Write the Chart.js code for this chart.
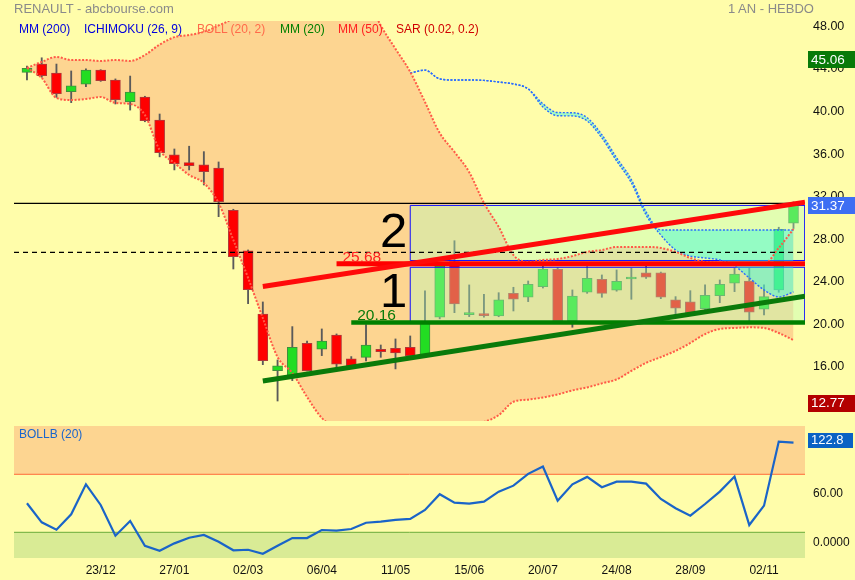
<!DOCTYPE html>
<html>
<head>
<meta charset="utf-8">
<title>RENAULT - abcbourse.com</title>
<script src="https://cdn.jsdelivr.net/npm/chart.js@4.4.0/dist/chart.umd.min.js"></script>
<style>
  body { margin: 0; background: #fffdaa; font-family: "Liberation Sans", Arial, sans-serif; }
  #wrap { position: relative; width: 855px; height: 580px; overflow: hidden; }
  #main { position: absolute; left: 0; top: 0; }
  #lower { position: absolute; left: 0; top: 425px; }
  .t { position: absolute; font-size: 12px; line-height: 14px; white-space: nowrap; }
</style>
</head>
<body>
<div id="wrap">
  <canvas id="main" width="855" height="425"></canvas>
  <canvas id="lower" width="855" height="155"></canvas>

  <div class="t" style="left:14px;top:0px;font-size:13px;line-height:17px;color:#8a8a8a">RENAULT - abcbourse.com</div>
  <div class="t" style="left:728px;top:0px;font-size:13px;line-height:17px;color:#8a8a8a">1 AN - HEBDO</div>

  <div class="t" style="left:19px;top:22px;color:#0000dd">MM (200)</div>
  <div class="t" style="left:84px;top:22px;color:#0000dd">ICHIMOKU (26, 9)</div>
  <div class="t" style="left:197px;top:22px;color:#ff6a4a">BOLL (20, 2)</div>
  <div class="t" style="left:280px;top:22px;color:#008000">MM (20)</div>
  <div class="t" style="left:338px;top:22px;color:#ff2020">MM (50)</div>
  <div class="t" style="left:396px;top:22px;color:#d00000">SAR (0.02, 0.2)</div>

  <div class="t" style="left:19px;top:427px;color:#1a66cc">BOLLB (20)</div>
</div>

<script>
// weekly data, one entry per week (18/11 -> 16/11)
var weeks = ['18/11','25/11','02/12','09/12','16/12','23/12','30/12','06/01','13/01','20/01',
             '27/01','03/02','10/02','17/02','24/02','02/03','09/03','16/03','23/03','30/03',
             '06/04','13/04','20/04','27/04','04/05','11/05','18/05','25/05','01/06','08/06',
             '15/06','22/06','29/06','06/07','13/07','20/07','27/07','03/08','10/08','17/08',
             '24/08','31/08','07/09','14/09','21/09','28/09','05/10','12/10','19/10','26/10',
             '02/11','09/11','16/11'];

var opens  = [43.69,44.47,43.63,41.87,42.57,43.91,42.97,40.93,41.37,39.21,
              35.92,35.19,34.98,34.69,30.71,26.89,20.96,15.62,14.97,18.20,
              17.64,18.98,16.73,16.88,17.63,17.73,17.83,17.10,20.65,25.88,
              20.90,20.85,20.77,22.91,22.53,23.53,25.16,20.33,23.00,24.22,
              23.19,24.25,24.82,24.82,22.28,22.09,21.46,22.68,23.85,24.06,
              21.40,23.22,29.49];
var highs  = [44.29,45.06,44.47,43.82,44.01,43.94,43.07,43.34,41.44,39.77,
              36.48,36.74,36.23,35.26,30.81,26.98,22.09,16.63,19.77,18.42,
              19.55,19.08,16.95,19.96,18.04,18.61,18.89,23.13,25.80,27.85,
              23.69,22.81,22.96,23.47,24.06,25.57,25.30,23.22,25.41,24.63,
              25.10,25.26,25.48,24.90,22.59,23.15,23.69,24.16,25.26,25.26,
              23.69,29.12,31.50];
var lows   = [42.98,43.23,41.34,40.84,42.34,42.84,40.71,40.14,39.04,35.74,
              34.51,34.51,33.09,30.11,25.19,21.93,16.19,12.77,14.69,15.60,
              17.04,15.85,15.97,16.54,16.88,15.79,17.00,17.00,20.50,21.08,
              20.71,20.65,20.70,21.24,22.12,23.40,20.20,19.71,22.90,22.53,
              23.10,22.34,24.30,22.40,20.87,20.90,21.27,22.02,23.06,20.33,
              20.87,23.00,29.00];
var closes = [44.07,43.38,41.68,42.41,43.91,42.91,41.12,41.84,39.14,36.14,
              35.10,34.91,34.34,31.52,26.35,23.24,16.57,16.07,17.83,15.63,
              18.42,16.23,16.00,18.04,17.41,17.29,17.04,20.20,25.57,21.90,
              21.00,20.80,22.28,22.34,23.75,25.19,20.33,22.65,24.32,22.90,
              24.04,24.35,24.41,22.53,21.50,21.08,22.72,23.75,24.72,21.12,
              22.59,28.93,31.37];

// bollinger (20, 2)
var bollUpper = [44.10,44.67,45.14,44.85,44.85,44.76,44.85,44.76,45.32,46.30,
                 47.00,47.20,47.50,48.10,48.90,51.00,52.50,54.00,55.00,55.50,
                 55.50,55.00,53.50,51.00,48.10,45.90,43.73,40.90,37.98,36.20,
                 34.30,31.40,29.15,26.50,25.86,26.04,26.13,26.40,26.80,26.98,
                 27.26,27.26,27.26,27.17,26.80,26.23,25.86,25.76,25.67,25.67,
                 25.67,27.17,28.95];
var bollLower = [44.10,43.16,41.28,41.09,41.18,41.37,40.81,40.71,39.68,36.39,
                 35.17,34.04,33.28,31.40,27.92,24.35,20.58,16.91,15.41,13.15,
                 11.18,10.20,9.60,9.20,9.00,9.00,9.20,9.50,9.90,10.30,
                 10.60,10.80,11.44,12.70,12.90,13.10,13.39,13.77,14.05,14.43,
                 14.80,15.60,16.36,16.90,17.49,18.23,19.07,19.55,19.64,19.70,
                 19.64,19.17,18.50];

// ichimoku cloud, starts 26 weeks in
var senkouStart = 26;
var senkouA = [43.62,43.90,43.07,42.97,42.97,42.93,42.78,42.60,42.13,40.43,
               39.61,39.59,39.12,37.52,35.36,33.30,30.27,28.39,26.98,26.41,
               26.23,26.04,25.48,24.35,23.22,22.56,23.03];
var senkouB = [43.62,43.90,43.07,42.97,42.97,42.93,42.78,42.60,42.13,40.73,
               39.91,39.89,39.42,37.82,35.66,33.60,30.57,28.86,28.86,28.86,
               28.86,28.86,28.86,28.86,28.86,28.86,28.86];

// BOLLB (20)
var bollB = [48.6,25.3,16.3,35.1,71.8,46.5,8.9,26.9,-3.3,-9.4,
             -0.4,6.5,9.8,1.6,-8.9,-8.2,-13.1,-3.3,6.1,6.1,
             15.9,15.1,17.1,24.8,26.1,28.2,29.4,40.4,59.6,49.3,
             48.1,50.6,62.8,70.1,84.5,93.4,51.8,71.8,80.8,68.2,
             75.0,75.0,72.6,53.9,42.5,33.4,47.7,62.8,81.2,22.0,
             45.7,124.0,122.8];

var priceTicks = [16, 20, 24, 28, 32, 36, 40, 44, 48];
var bollBTicks = [0, 60, 120];
var bollBTickText = {0: '0.0000', 60: '60.00', 120: '120.0'};
var dateTicks = [5, 10, 15, 20, 25, 30, 35, 40, 45, 50];

// drawn objects (price units / week index)
var lastPrice = 31.37, yearHigh = 45.06, yearLow = 12.77;
var dashedLevel = 26.76;
var resistance = 25.68, resistanceFrom = 21.0;
var support = 20.16, supportFrom = 22.0;
var redTrend = [[16, 23.55], [52.78, 31.48]];
var greenTrend = [[16, 14.65], [52.78, 22.62]];
var zone1 = [20.16, 25.35], zone2 = [25.99, 31.17], zoneFrom = 26;
var bollBUpperLevel = 84, bollBLowerLevel = 13.1;

var X_MIN = -0.88, X_MAX = 52.78;
var Y_MIN = 10.89, Y_MAX = 48.52;
var FONT = '"Liberation Sans", Arial, sans-serif';
var ORANGE = '#fdd591';

function pts(arr, start) {
  start = start || 0;
  return arr.map(function (v, i) { return {x: i + start, y: v}; });
}
function seg(a, b) { return [{x: a[0], y: a[1]}, {x: b[0], y: b[1]}]; }
function hline(v, from) { return [{x: from, y: v}, {x: X_MAX, y: v}]; }
function rect(z, from) {
  return [{x: from, y: z[0]}, {x: from, y: z[1]}, {x: X_MAX, y: z[1]}, {x: X_MAX, y: z[0]}, {x: from, y: z[0]}];
}

var wicks = [], bodies = [], bodyColors = [], bodyBorders = [];
for (var i = 0; i < weeks.length; i++) {
  wicks.push({x: i, y: [lows[i], highs[i]]});
  bodies.push({x: i, y: [opens[i], closes[i]]});
  var up = closes[i] >= opens[i];
  bodyColors.push(up ? '#22dd22' : '#ff0000');
  bodyBorders.push(up ? '#3f8f3f' : '#b03a3a');
}

function line(data, color, width, order, extra) {
  var ds = {type: 'line', data: data, borderColor: color, borderWidth: width,
            pointRadius: 0, fill: false, order: order, tension: 0};
  for (var k in extra) ds[k] = extra[k];
  return ds;
}

var dotted = {borderDash: [2, 1.6], cubicInterpolationMode: 'monotone'};

// keep the right axis from reserving label room above/below the plot
function rightAxisFit(s) {
  s.width = 50;
  s.paddingTop = 0;
  s.paddingBottom = 0;
}

var textPlugin = {
  id: 'textPlugin',
  afterDatasetsDraw: function (chart) {
    var ctx = chart.ctx, xs = chart.scales.x, ys = chart.scales.y;
    ctx.save();
    ctx.textBaseline = 'alphabetic';
    ctx.textAlign = 'right';
    ctx.fillStyle = '#000';
    ctx.font = '49px ' + FONT;
    ctx.fillText('2', xs.getPixelForValue(zoneFrom) - 3, ys.getPixelForValue(27.26));
    ctx.fillText('1', xs.getPixelForValue(zoneFrom) - 3, ys.getPixelForValue(21.62));
    ctx.textAlign = 'left';
    ctx.font = '15.5px ' + FONT;
    ctx.fillStyle = '#ff2020';
    ctx.fillText('25.68', xs.getPixelForValue(resistanceFrom + 0.4), ys.getPixelForValue(resistance) - 1.5);
    ctx.fillStyle = '#0a7a0a';
    ctx.fillText('20.16', xs.getPixelForValue(supportFrom + 0.4), ys.getPixelForValue(support) - 2);
    ctx.restore();
  },
  afterDraw: function (chart) {
    valueBox(chart, yearHigh, '#087a08', yearHigh.toFixed(2), 1.8, 17, 13.5);
    valueBox(chart, lastPrice, '#3d6ef3', lastPrice.toFixed(2), 2, 17, 13.5);
    valueBox(chart, yearLow, '#b30000', yearLow.toFixed(2), 2, 17, 13.5);
  }
};

function valueBox(chart, value, bg, text, dy, h, size) {
  var ctx = chart.ctx;
  var y = chart.scales.y.getPixelForValue(value) + dy;
  var x = chart.chartArea.right + 3;
  ctx.save();
  ctx.fillStyle = bg;
  ctx.fillRect(x, Math.round(y - h / 2), chart.width - x, h);
  ctx.fillStyle = '#fff';
  ctx.font = size + 'px ' + FONT;
  ctx.textAlign = 'left';
  ctx.textBaseline = 'middle';
  ctx.fillText(text, x + 3, y + 0.5);
  ctx.restore();
}

var mainChart = new Chart(document.getElementById('main'), {
  type: 'line',
  data: {
    datasets: [
      // bollinger fill (behind everything)
      line(pts(bollUpper), 'rgba(0,0,0,0)', 0, 100, {fill: '+1', backgroundColor: ORANGE, cubicInterpolationMode: 'monotone'}),
      line(pts(bollLower), 'rgba(0,0,0,0)', 0, 99, {cubicInterpolationMode: 'monotone'}),
      // candles
      {type: 'bar', data: wicks, backgroundColor: '#5a5a5a', barThickness: 1.2,
       grouped: false, order: 60},
      {type: 'bar', data: bodies, backgroundColor: bodyColors, borderColor: bodyBorders,
       borderWidth: 1, borderSkipped: false, barThickness: 10, minBarLength: 2,
       grouped: false, order: 50},
      // zones 1 and 2
      line(rect(zone2, zoneFrom), '#1010ff', 1, 40, {fill: 'shape', backgroundColor: 'rgba(180,255,190,0.38)'}),
      line(rect(zone1, zoneFrom), '#1010ff', 1, 39, {fill: 'shape', backgroundColor: 'rgba(180,255,190,0.38)'}),
      // ichimoku cloud
      line(pts(senkouA, senkouStart), '#2a6cff', 1.4, 35,
           Object.assign({fill: '+1', backgroundColor: 'rgba(40,250,225,0.42)'}, dotted)),
      line(pts(senkouB, senkouStart), '#2a6cff', 1.4, 34, dotted),
      // bollinger bands
      line(pts(bollUpper), '#ff5a47', 2, 30, dotted),
      line(pts(bollLower), '#ff5a47', 2, 29, dotted),
      // horizontal lines
      line(hline(lastPrice, X_MIN), '#000', 1.3, 20),
      line(hline(dashedLevel, X_MIN), '#000', 1.3, 20, {borderDash: [5, 4]}),
      line(hline(resistance, resistanceFrom), '#ff0000', 5, 12),
      line(hline(support, supportFrom), '#008000', 4.5, 12),
      // trend lines
      line(seg(redTrend[0], redTrend[1]), '#ff0a0a', 5, 10),
      line(seg(greenTrend[0], greenTrend[1]), '#0a7a0a', 5, 10)
    ]
  },
  options: {
    responsive: false,
    animation: false,
    events: [],
    devicePixelRatio: 1,
    layout: {padding: {left: 14, top: 21, right: 0, bottom: 4}},
    plugins: {legend: {display: false}, tooltip: {enabled: false}},
    scales: {
      x: {type: 'linear', min: X_MIN, max: X_MAX, display: false, offset: false},
      y: {
        position: 'right', min: Y_MIN, max: Y_MAX,
        grid: {display: false, drawTicks: false}, border: {display: false},
        afterFit: rightAxisFit,
        afterBuildTicks: function (s) { s.ticks = priceTicks.map(function (v) { return {value: v}; }); },
        ticks: {padding: 8, color: '#111', font: {family: FONT, size: 12.5},
                callback: function (v) { return v.toFixed(2); }}
      }
    }
  },
  plugins: [textPlugin]
});

var lowerPlugin = {
  id: 'lowerPlugin',
  afterDraw: function (chart) {
    var ctx = chart.ctx;
    var last = bollB[bollB.length - 1];
    var y = chart.scales.y.getPixelForValue(last) - 2.5;
    var x = chart.chartArea.right + 3;
    ctx.save();
    ctx.fillStyle = '#0a62c4';
    ctx.fillRect(x, Math.round(y - 7.5), 45, 15);
    ctx.fillStyle = '#fff';
    ctx.font = '13px ' + FONT;
    ctx.textBaseline = 'middle';
    ctx.fillText(last.toFixed(1), x + 3, y + 0.5);
    ctx.restore();
  }
};

var lowerChart = new Chart(document.getElementById('lower'), {
  type: 'line',
  data: {
    datasets: [
      line(hline(bollBUpperLevel, X_MIN), '#ff6a3a', 1, 50, {fill: 'end', backgroundColor: ORANGE}),
      line(hline(bollBLowerLevel, X_MIN), '#6aab3a', 1, 49, {fill: 'start', backgroundColor: '#d9eb95'}),
      line(pts(bollB), '#1a64c8', 2.2, 10)
    ]
  },
  options: {
    responsive: false,
    animation: false,
    events: [],
    devicePixelRatio: 1,
    layout: {padding: {left: 14, top: 1, right: 0, bottom: 0}},
    plugins: {legend: {display: false}, tooltip: {enabled: false}},
    scales: {
      x: {
        type: 'linear', min: X_MIN, max: X_MAX, offset: false,
        grid: {display: false, drawTicks: false}, border: {display: false},
        afterFit: function (s) { s.height = 22; s.paddingLeft = 0; s.paddingRight = 0; },
        afterBuildTicks: function (s) { s.ticks = dateTicks.map(function (v) { return {value: v}; }); },
        ticks: {padding: 5, color: '#111', maxRotation: 0, autoSkip: false,
                font: {family: FONT, size: 12},
                callback: function (v) { return weeks[v]; }}
      },
      y: {
        position: 'right', min: -18.3, max: 143,
        grid: {display: false, drawTicks: false}, border: {display: false},
        afterFit: rightAxisFit,
        afterBuildTicks: function (s) { s.ticks = bollBTicks.map(function (v) { return {value: v}; }); },
        ticks: {padding: 8, color: '#111', font: {family: FONT, size: 12},
                callback: function (v) { return bollBTickText[v]; }}
      }
    }
  },
  plugins: [lowerPlugin]
});
</script>
</body>
</html>
